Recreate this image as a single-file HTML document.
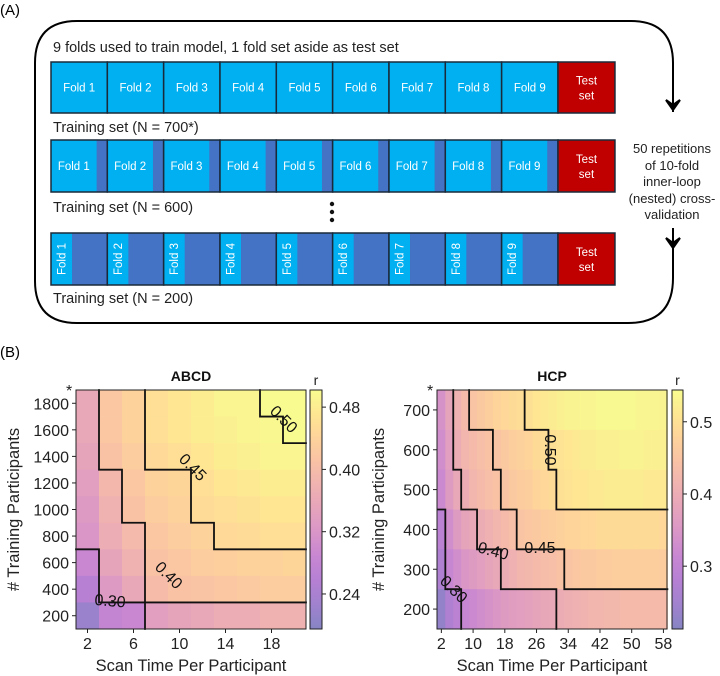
<!DOCTYPE html>
<html><head><meta charset="utf-8"><style>
html,body{margin:0;padding:0;background:#fff;}
svg{display:block;font-family:"Liberation Sans",Arial,sans-serif;}
</style></head><body>
<svg id="fig" width="720" height="676" viewBox="0 0 720 676" xmlns="http://www.w3.org/2000/svg">
<text x="0" y="15" font-size="15">(A)</text>
<path d="M673,112 L673,63 Q673,21 631,21 L77,21 Q35,21 35,63 L35,281 Q35,323 77,323 L628,323 Q673,323 673,278 L673,228" fill="none" stroke="#000" stroke-width="2"/>
<path d="M666,100 L673,110 L680,100 L673,105 Z" fill="#000" stroke="#000" stroke-width="2"/>
<path d="M666,238 L673,248 L680,238 L673,243 Z" fill="#000" stroke="#000" stroke-width="2"/>
<g font-size="13" text-anchor="middle" fill="#222">
<text x="672" y="153">50 repetitions</text><text x="672" y="170">of 10-fold</text><text x="672" y="186">inner-loop</text><text x="672" y="203">(nested) cross-</text><text x="672" y="219">validation</text></g>
<text x="53" y="52" font-size="14.5" fill="#222">9 folds used to train model, 1 fold set aside as test set</text>
<text x="53" y="132" font-size="14.5" fill="#222">Training set (N = 700*)</text>
<text x="53" y="212" font-size="14.5" fill="#222">Training set (N = 600)</text>
<text x="53" y="303" font-size="14.5" fill="#222">Training set (N = 200)</text>
<circle cx="332" cy="204" r="2.2" fill="#111"/>
<circle cx="332" cy="212" r="2.2" fill="#111"/>
<circle cx="332" cy="220" r="2.2" fill="#111"/>
<g id="rows"></g>
<text x="0" y="357" font-size="15">(B)</text>
<g id="abcd"></g><g id="hcp"></g>
</svg>
<script>
const NS="http://www.w3.org/2000/svg";
const abcdTimes=[2,4,6,8,10,12,14,16,18,20];
const abcdN=[1800,1600,1400,1200,1000,800,600,400,200];
const abcdR=[
[0.36,0.42,0.44,0.46,0.47,0.48,0.49,0.49,0.50,0.502],
[0.36,0.42,0.44,0.46,0.47,0.48,0.485,0.49,0.495,0.50],
[0.35,0.41,0.43,0.45,0.46,0.47,0.48,0.485,0.49,0.49],
[0.34,0.39,0.42,0.44,0.445,0.46,0.47,0.475,0.48,0.48],
[0.33,0.38,0.41,0.43,0.44,0.455,0.46,0.465,0.47,0.47],
[0.32,0.37,0.395,0.42,0.43,0.44,0.45,0.455,0.46,0.46],
[0.29,0.35,0.38,0.41,0.42,0.43,0.435,0.44,0.44,0.445],
[0.26,0.33,0.36,0.40,0.41,0.415,0.42,0.425,0.43,0.43],
[0.22,0.28,0.29,0.34,0.35,0.36,0.37,0.37,0.38,0.38]];
const abcdLevels=[0.30,0.40,0.45,0.50];
const abcdXTicks=[2,6,10,14,18];
const abcdYTicks=[200,400,600,800,1000,1200,1400,1600,1800];
const abcdCbTicks=["0.24","0.32","0.40","0.48"];
const hcpTimes=[2,4,6,8,10,12,14,16,18,20,22,24,26,28,30,32,34,36,38,40,42,44,46,48,50,52,54,56,58];
const hcpN=[700,600,500,400,300,200];
const hcpR=[
[0.34,0.38,0.41,0.43,0.45,0.46,0.47,0.48,0.485,0.49,0.495,0.50,0.51,0.515,0.52,0.525,0.53,0.53,0.535,0.535,0.54,0.54,0.54,0.54,0.54,0.535,0.535,0.535,0.53],
[0.33,0.37,0.40,0.42,0.43,0.44,0.445,0.45,0.46,0.47,0.475,0.48,0.49,0.495,0.50,0.505,0.51,0.515,0.52,0.52,0.525,0.525,0.525,0.53,0.53,0.53,0.525,0.525,0.525],
[0.32,0.36,0.39,0.40,0.42,0.43,0.44,0.445,0.45,0.46,0.465,0.47,0.48,0.485,0.49,0.50,0.505,0.51,0.51,0.515,0.515,0.52,0.52,0.52,0.52,0.52,0.515,0.515,0.515],
[0.29,0.33,0.36,0.38,0.39,0.40,0.41,0.42,0.43,0.44,0.45,0.455,0.46,0.465,0.47,0.475,0.48,0.48,0.485,0.485,0.49,0.49,0.49,0.49,0.49,0.49,0.49,0.49,0.485],
[0.27,0.31,0.33,0.35,0.36,0.37,0.38,0.39,0.40,0.41,0.42,0.425,0.43,0.435,0.44,0.445,0.45,0.455,0.46,0.46,0.465,0.465,0.47,0.47,0.47,0.47,0.47,0.47,0.465],
[0.23,0.27,0.29,0.31,0.32,0.33,0.34,0.35,0.36,0.365,0.37,0.375,0.38,0.385,0.39,0.40,0.405,0.41,0.415,0.42,0.42,0.425,0.425,0.43,0.43,0.43,0.43,0.43,0.43]];
const hcpLevels=[0.30,0.40,0.45,0.50];
const hcpXTicks=[2,10,18,26,34,42,50,58];
const hcpYTicks=[200,300,400,500,600,700];
const hcpCbTicks=["0.3","0.4","0.5"];

function mk(tag,attrs,parent){const e=document.createElementNS(NS,tag);for(const k in attrs)e.setAttribute(k,attrs[k]);if(parent)parent.appendChild(e);return e;}
const PL=[[13,8,135],[65,4,157],[106,0,168],[143,13,164],[177,42,144],[204,71,120],[225,100,98],[242,132,75],[252,166,54],[252,206,37],[240,249,33]];
function cmap(t){t=Math.max(0,Math.min(1,t));const s=t*10,i=Math.min(9,Math.floor(s)),f=s-i;const c=PL[i].map((v,k)=>v+(PL[i+1][k]-v)*f);const a=0.5;return "rgb("+c.map(v=>Math.round(v*a+255*(1-a))).join(",")+")";}

(function(){
 const g=document.getElementById('rows');
 const x0=51,w=56.33;
 const rows=[{y:62,h:51,dark:0,vert:false},{y:140,h:52,dark:10.7,vert:false},{y:233,h:52,dark:35.3,vert:true}];
 rows.forEach((r,ri)=>{
  for(let i=0;i<9;i++){
   const x=x0+i*w;
   const f=mk('rect',{x:x,y:r.y,width:w,height:r.h,fill:'#00b0f0'},g);
   
   
   if(r.dark>0){const d=mk('rect',{x:x+w-r.dark,y:r.y,width:r.dark,height:r.h,fill:'#4472c4'},g);
    }
   mk('rect',{x:x,y:r.y,width:w,height:r.h,fill:'none',stroke:'#1a2a3a','stroke-width':1.5},g);
   let t;
   if(r.vert){const cx=x+(w-r.dark)/2,cy=r.y+r.h/2;t=mk('text',{x:cx,y:cy+4,'font-size':11.5,fill:'#fff','text-anchor':'middle',transform:'rotate(-90 '+cx+' '+cy+')'},g);}
   else{const cx=x+(w-r.dark)/2;t=mk('text',{x:cx,y:r.y+r.h/2+4,'font-size':11.5,fill:'#fff','text-anchor':'middle'},g);}
   t.textContent='Fold '+(i+1);
   
  }
  const tx=x0+9*w;
  const ts=mk('rect',{x:tx,y:r.y,width:57,height:r.h,fill:'#c00000',stroke:'#1a2a3a','stroke-width':1.5},g);
  
  const t1=mk('text',{x:tx+28.5,y:r.y+r.h/2-3,'font-size':11.5,fill:'#fff','text-anchor':'middle'},g);t1.textContent='Test';
  
  const t2=mk('text',{x:tx+28.5,y:r.y+r.h/2+12,'font-size':11.5,fill:'#fff','text-anchor':'middle'},g);t2.textContent='set';
  
 });
})();

function heat(c){
 const g=document.getElementById(c.id);
 const xs=t=>c.px0+(t-c.tmin)/(c.tmax-c.tmin)*(c.px1-c.px0);
 const ys=n=>c.py0+(c.nmax-n)/(c.nmax-c.nmin)*(c.py1-c.py0);
 const norm=v=>(v-c.vmin)/(c.vmax-c.vmin);
 const ht=c.dt/2,hn=c.dn/2;
 c.ns.forEach((n,i)=>c.times.forEach((t,j)=>{
  const x=xs(t-ht),y=ys(n+hn);
  const r=mk('rect',{x:x,y:y,width:xs(t+ht)-x+0.4,height:ys(n-hn)-y+0.4,fill:cmap(norm(c.vals[i][j]))},g);
  
  
 }));
 let d='';
 c.levels.forEach(L=>{
  for(let i=0;i<c.ns.length;i++)for(let j=0;j<c.times.length;j++){
   const a=c.vals[i][j]>=L;
   if(j+1<c.times.length && a!==(c.vals[i][j+1]>=L)){const x=xs(c.times[j]+ht);d+='M'+x+','+ys(c.ns[i]+hn)+'V'+ys(c.ns[i]-hn);}
   if(i+1<c.ns.length && a!==(c.vals[i+1][j]>=L)){const y=ys(c.ns[i]-hn);d+='M'+xs(c.times[j]-ht)+','+y+'H'+xs(c.times[j]+ht);}
  }
 });
 const cp=mk('path',{d:d,fill:'none',stroke:'#111','stroke-width':1.8,'stroke-linecap':'square'},g);
 
 c.labels.forEach(l=>{const t=mk('text',{x:l[1],y:l[2],'font-size':16,'text-anchor':'middle','dominant-baseline':'middle',fill:'#111',transform:'rotate('+l[3]+' '+l[1]+' '+l[2]+')'},g);t.textContent=l[0];
  });
 const fr=mk('rect',{x:c.px0,y:c.py0,width:c.px1-c.px0,height:c.py1-c.py0,fill:'none',stroke:'#222','stroke-width':1},g);
 
 c.xTicks.forEach(t=>{const x=xs(t);mk('line',{x1:x,x2:x,y1:c.py1,y2:c.py1+4,stroke:'#222'},g);
  const tx=mk('text',{x:x,y:c.py1+20,'font-size':16,'text-anchor':'middle',fill:'#222'},g);tx.textContent=t;
  });
 c.yTicks.forEach(n=>{const y=ys(n);mk('line',{x1:c.px0-4,x2:c.px0,y1:y,y2:y,stroke:'#222'},g);
  const tx=mk('text',{x:c.px0-7,y:y+6,'font-size':16,'text-anchor':'end',fill:'#222'},g);tx.textContent=n;
  });
 const st=mk('text',{x:c.px0-10,y:c.py0+6,'font-size':16,fill:'#222'},g);st.textContent='*';
 
 const ti=mk('text',{x:(c.px0+c.px1)/2,y:c.py0-9,'font-size':14,'font-weight':'bold','text-anchor':'middle',fill:'#111'},g);ti.textContent=c.title;
 
 const xl=mk('text',{x:(c.px0+c.px1)/2,y:c.py1+42,'font-size':16.5,'text-anchor':'middle',fill:'#222'},g);xl.textContent='Scan Time Per Participant';
 
 const yc=(c.py0+c.py1)/2;
 const yl=mk('text',{x:c.ylx,y:yc,'font-size':16.5,'text-anchor':'middle',fill:'#222',transform:'rotate(-90 '+c.ylx+' '+yc+')'},g);yl.textContent='# Training Participants';
 
 const gid='grad'+c.id;
 const defs=mk('defs',{},g);const lg=mk('linearGradient',{id:gid,x1:0,y1:1,x2:0,y2:0},defs);
 for(let k=0;k<=20;k++)mk('stop',{offset:k/20,'stop-color':cmap(k/20)},lg);
 const cb=mk('rect',{x:c.cbx,y:c.py0,width:c.cbw,height:c.py1-c.py0,fill:'url(#'+gid+')',stroke:'#222','stroke-width':1},g);
 
 const cy=v=>c.py1-(v-c.vmin)/(c.vmax-c.vmin)*(c.py1-c.py0);
 c.cbTicks.forEach(s=>{const y=cy(parseFloat(s));mk('line',{x1:c.cbx+c.cbw,x2:c.cbx+c.cbw+4,y1:y,y2:y,stroke:'#222'},g);
  const tx=mk('text',{x:c.cbx+c.cbw+7,y:y+6,'font-size':16,fill:'#222'},g);tx.textContent=s;
  });
 const rl=mk('text',{x:c.cbx+c.cbw/2,y:c.py0-5,'font-size':14,'text-anchor':'middle',fill:'#222'},g);rl.textContent='r';
 
}
heat({id:'abcd',title:'ABCD',times:abcdTimes,ns:abcdN,vals:abcdR,levels:abcdLevels,xTicks:abcdXTicks,yTicks:abcdYTicks,cbTicks:abcdCbTicks,
 px0:76,px1:306,py0:390,py1:629,tmin:1,tmax:21,nmax:1900,nmin:100,dt:2,dn:200,vmin:0.195,vmax:0.502,cbx:310,cbw:12,ylx:19,
 labels:[['0.50',283,420,45],['0.45',192,468,45],['0.40',168,576,45],['0.30',110,602,5]]});
heat({id:'hcp',title:'HCP',times:hcpTimes,ns:hcpN,vals:hcpR,levels:hcpLevels,xTicks:hcpXTicks,yTicks:hcpYTicks,cbTicks:hcpCbTicks,
 px0:437,px1:667,py0:390,py1:629,tmin:0.9,tmax:58.9,nmax:750,nmin:150,dt:2,dn:100,vmin:0.213,vmax:0.544,cbx:672,cbw:11,ylx:384,
 labels:[['0.50',549,450,90],['0.45',540,549,0],['0.40',493,552,15],['0.30',453,590,45]]});
</script>
</body></html>
